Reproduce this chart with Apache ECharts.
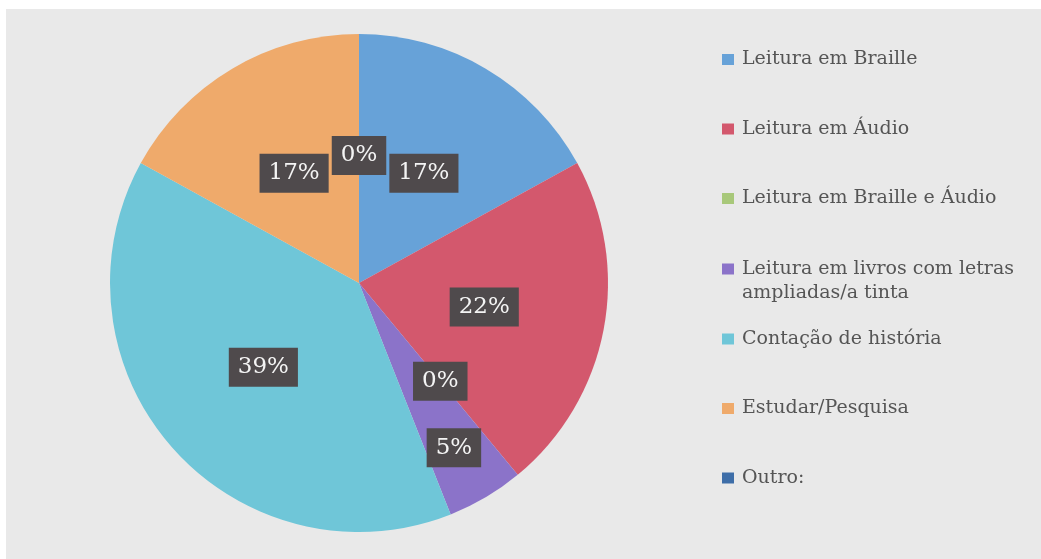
<!DOCTYPE html>
<html>
<head>
<meta charset="utf-8">
<script src="https://cdn.jsdelivr.net/npm/echarts@6/dist/echarts.min.js"></script>
<style>
  html, body { margin: 0; padding: 0; background: #ffffff; }
  #chart { position: absolute; left: 6px; top: 9px; width: 1035px; height: 550px; }
</style>
</head>
<body>
<div id="chart"></div>
<script>
// Reading activities (percent of answers)
const categories = [
  'Leitura em Braille',
  'Leitura em Áudio',
  'Leitura em Braille e Áudio',
  'Leitura em livros com letras ampliadas/a tinta',
  'Contação de história',
  'Estudar/Pesquisa',
  'Outro:'
];
const shares = [17, 22, 0, 5, 39, 17, 0];
const sliceColors = ['#67a2d8', '#d3586d', '#a8c87a', '#8b73c9', '#6fc6d8', '#efaa6b', '#3e6ea8'];

const serif = '"DejaVu Serif", "Liberation Serif", serif';

// the small purple slice keeps its label further out, clear of the 0% tag
const labelNudge = { 3: [30, 55] };

const pieData = categories.map(function (name, i) {
  const item = { name: name, value: shares[i], itemStyle: { color: sliceColors[i] } };
  if (labelNudge[i]) item.label = { offset: labelNudge[i] };
  return item;
});

const legendText = { fontFamily: serif, fontSize: 19, color: '#555555', lineHeight: 24, padding: [0, 0, 0, 3] };

const legendBase = {
  orient: 'vertical',
  left: 716,
  padding: 0,
  icon: 'rect',
  itemWidth: 12,
  itemHeight: 11,
  itemGap: 45.5,
  selectedMode: false,
  itemStyle: { borderWidth: 0 },
  textStyle: legendText
};

const chart = echarts.init(document.getElementById('chart'));
chart.setOption({
  backgroundColor: '#e9e9e9',
  animation: false,
  legend: [
    Object.assign({}, legendBase, { top: 38.5, data: categories.slice(0, 3) }),
    Object.assign({}, legendBase, {
      top: 224,
      data: [categories[3]],
      // two-line entry: an empty leading line keeps the marker beside the first line
      formatter: function (name) { return '\n' + name.replace(' ampliadas', '\nampliadas'); }
    }),
    Object.assign({}, legendBase, { top: 318, data: categories.slice(4) })
  ],
  series: [{
    type: 'pie',
    center: [353, 274],
    radius: 249,
    startAngle: 90,
    clockwise: true,
    percentPrecision: 0,
    avoidLabelOverlap: false,
    itemStyle: { borderWidth: 0 },
    emphasis: { disabled: true },
    label: {
      show: true,
      position: 'inside',
      formatter: '{d}%',
      fontFamily: serif,
      fontSize: 23,
      lineHeight: 25,
      color: '#f4f4f4',
      backgroundColor: '#4f4a4c',
      padding: [7, 9]
    },
    labelLine: { show: false },
    data: pieData
  }]
});
</script>
</body>
</html>
